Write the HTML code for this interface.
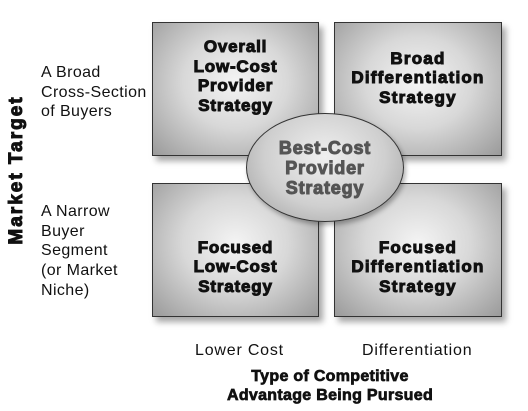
<!DOCTYPE html>
<html><head><meta charset="utf-8"><style>
body{margin:0;width:528px;height:411px;background:#fff;position:relative;overflow:hidden;font-family:"Liberation Sans",Arial,sans-serif}
.box{position:absolute;box-sizing:border-box;border:1px solid #333;background:radial-gradient(ellipse at 50% 45%,#f4f4f4 0%,#d8d8d8 45%,#9a9a9a 100%);box-shadow:4px 5px 6px rgba(0,0,0,0.35);display:flex;align-items:center;justify-content:center;text-align:center;font-weight:bold;font-size:17px;letter-spacing:0.8px;line-height:19.5px;color:#111;-webkit-text-stroke:1px #111;white-space:nowrap}
.lbl{position:absolute;font-size:16px;letter-spacing:0.4px;line-height:19.7px;color:#111;white-space:nowrap}
</style></head><body>
<div class="box" style="left:152px;top:22px;width:167px;height:134px;padding-bottom:26px">Overall<br>Low-Cost<br>Provider<br>Strategy</div>
<div class="box" style="left:334px;top:22px;width:168px;height:134px;padding-bottom:22px;letter-spacing:1.2px">Broad<br>Differentiation<br>Strategy</div>
<div class="box" style="left:152px;top:183px;width:167px;height:134px;padding-top:34px">Focused<br>Low-Cost<br>Strategy</div>
<div class="box" style="left:334px;top:183px;width:168px;height:134px;padding-top:34px;letter-spacing:1.2px">Focused<br>Differentiation<br>Strategy</div>
<div style="position:absolute;left:246px;top:113px;width:158px;height:109px;box-sizing:border-box;border:1px solid #333;border-radius:50%;background:radial-gradient(ellipse at 50% 40%,#f0f0f0 0%,#cfcfcf 55%,#9c9c9c 100%);box-shadow:2px 3px 5px rgba(0,0,0,0.3);display:flex;align-items:center;justify-content:center;text-align:center;font-weight:bold;font-size:18px;letter-spacing:0.8px;line-height:20px;color:#555;-webkit-text-stroke:1px #555">Best-Cost<br>Provider<br>Strategy</div>
<div class="lbl" style="left:41px;top:63px">A Broad<br>Cross-Section<br>of Buyers</div>
<div class="lbl" style="left:41px;top:202px">A Narrow<br>Buyer<br>Segment<br>(or Market<br>Niche)</div>
<div style="position:absolute;left:17px;top:170px;transform:translate(-50%,-50%) rotate(-90deg);font-weight:bold;font-size:19px;white-space:nowrap;color:#111;-webkit-text-stroke:1px #111;letter-spacing:2px">Market Target</div>
<div class="lbl" style="left:195px;top:341px;letter-spacing:0.8px">Lower Cost</div>
<div class="lbl" style="left:362px;top:341px;letter-spacing:0.8px">Differentiation</div>
<div style="position:absolute;left:180px;width:300px;top:367px;text-align:center;font-weight:bold;font-size:16px;letter-spacing:0.3px;line-height:19px;color:#111;-webkit-text-stroke:0.7px #111">Type of Competitive<br>Advantage Being Pursued</div>
</body></html>
